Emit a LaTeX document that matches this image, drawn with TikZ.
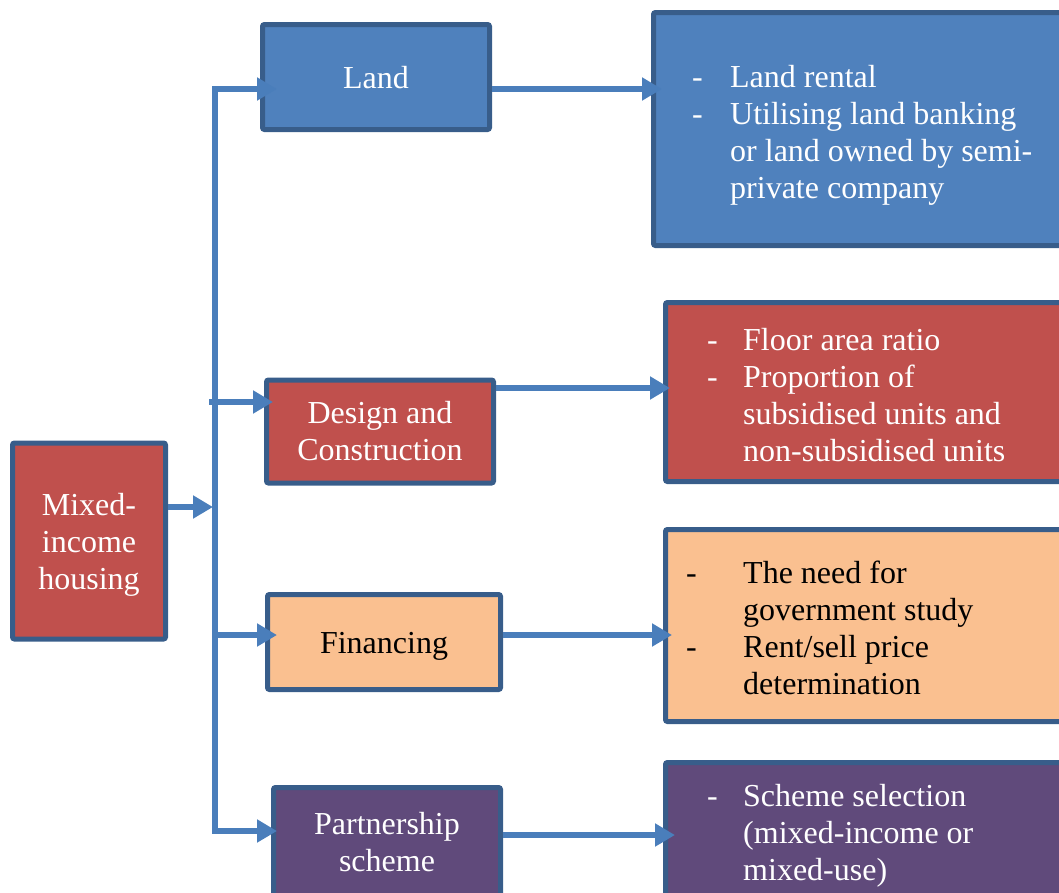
\documentclass[tikz,border=0pt]{standalone}
\usepackage{fontspec}
\setmainfont{Liberation Serif}
\usetikzlibrary{arrows.meta}
\definecolor{edgeblue}{HTML}{385D8A}
\definecolor{linkblue}{HTML}{4A7EBB}
\definecolor{landblue}{HTML}{4F81BD}
\definecolor{designred}{HTML}{C0504D}
\definecolor{financeorange}{HTML}{FAC090}
\definecolor{partnerpurple}{HTML}{604A7B}
\begin{document}
\begin{tikzpicture}[x=1pt,y=-1pt,
  box/.style={draw=edgeblue, line width=5pt, rounded corners=2pt, inner sep=0pt,
    align=center, font=\fontsize{32}{37}\selectfont},
  oneline/.style={text height=23pt, text depth=0pt},
  conn/.style={draw=linkblue, line width=6pt, line join=miter,
    -{Triangle[length=20pt,width=22pt]}},
  list/.style={anchor=north west, inner sep=0pt, font=\fontsize{32}{37}\selectfont}]
\useasboundingbox (0,0) rectangle (1059,892);
\clip (0,0) rectangle (1059,892);

% main topic
\node[box, fill=designred, text=white, minimum width=153pt, minimum height=196pt]
  (mixed) at (89,541) {\rule{0pt}{29pt}Mixed-\\income\\housing};

% aspects
\node[box, fill=landblue, text=white, oneline, minimum width=227pt, minimum height=105pt]
  (land) at (376,77) {Land};
\node[box, fill=designred, text=white, minimum width=227pt, minimum height=103pt]
  (design) at (380,431.5) {Design and\\Construction};
\node[box, fill=financeorange, text=black, oneline, minimum width=233pt, minimum height=95pt]
  (fin) at (384,642) {Financing};
\node[box, fill=partnerpurple, text=white, minimum width=227pt, minimum height=109pt]
  (part) at (387,842) {Partnership\\scheme};

% detail boxes
\node[box, fill=landblue, minimum width=446pt, minimum height=233pt] (rland) at (876.5,129) {};
\node[box, fill=designred, minimum width=434pt, minimum height=179pt] (rdes) at (882.5,392) {};
\node[box, fill=financeorange, minimum width=434pt, minimum height=192pt] (rfin) at (882.5,625.5) {};
\node[box, fill=partnerpurple, minimum width=434pt, minimum height=139pt] (rpart) at (882.5,832) {};

% detail lists
\node[list, text=white] (tland) at (692,61) {\begin{tabular}{@{}p{38pt}@{}l@{}}
  - & Land rental\\
  - & Utilising land banking\\
    & or land owned by semi-\\
    & private company\end{tabular}};
\node[list, text=white] (tdes) at (707,324.5) {\begin{tabular}{@{}p{36pt}@{}l@{}}
  - & Floor area ratio\\
  - & Proportion of\\
    & subsidised units and\\
    & non-subsidised units\end{tabular}};
\node[list, text=black] (tfin) at (686,557) {\begin{tabular}{@{}p{57pt}@{}l@{}}
  - & The need for\\
    & government study\\
  - & Rent/sell price\\
    & determination\end{tabular}};
\node[list, text=white] (tpart) at (707,780.5) {\begin{tabular}{@{}p{36pt}@{}l@{}}
  - & Scheme selection\\
    & (mixed-income or\\
    & mixed-use)\end{tabular}};

% junction points on the trunk
\coordinate (jTop) at (215,89);
\coordinate (jBot) at (215,831);
\coordinate (jMix) at (215,507);
\coordinate (jDes) at (209,402);
\coordinate (jFin) at (212,635);
\coordinate (rDes) at (0,388);
\coordinate (rPart) at (0,835);

% connectors
\draw[conn, shorten >=2pt] (mixed.east |- jMix) -- (jMix);
\draw[conn, shorten >=-17pt] (jBot) -- (jTop) -- (land.west |- jTop);
\draw[conn, shorten >=-6pt] (jTop) -- (jBot) -- (part.west |- jBot);
\draw[conn, shorten >=-9pt] (jDes) -- (design.west |- jDes);
\draw[conn, shorten >=-12pt] (jFin) -- (fin.west |- jFin);

\draw[conn, shorten >=-11pt] (land.east |- jTop) -- (rland.west |- jTop);
\draw[conn, shorten >=-7pt] (design.east |- rDes) -- (rdes.west |- rDes);
\draw[conn, shorten >=-9pt] (fin.east |- jFin) -- (rfin.west |- jFin);
\draw[conn, shorten >=-12pt] (part.east |- rPart) -- (rpart.west |- rPart);
\end{tikzpicture}
\end{document}
